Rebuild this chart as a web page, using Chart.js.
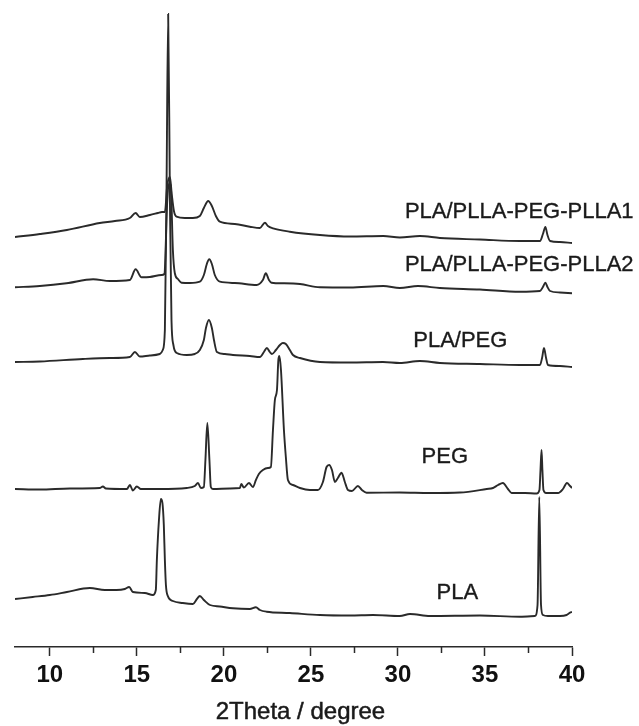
<!DOCTYPE html>
<html>
<head>
<meta charset="utf-8">
<script src="https://cdn.jsdelivr.net/npm/chart.js@4.4.1/dist/chart.umd.min.js"></script>
<style>
html,body{margin:0;padding:0;background:#fff;}
#c{display:block;}
</style>
</head>
<body>
<canvas id="c" width="639" height="726"></canvas>
<script>
// ---- Data (2Theta in degree, intensity in arbitrary units incl. stacking offset) ----
const xTickLabels = [10, 15, 20, 25, 30, 35, 40];
const seriesNames = ["PLA/PLLA-PEG-PLLA1", "PLA/PLLA-PEG-PLLA2", "PLA/PEG", "PEG", "PLA"];

const plaX = [8.0, 9.02, 10.0, 10.98, 12.30, 13.16, 13.83, 14.31, 14.56, 14.77, 15.46, 15.92, 16.09, 16.15, 16.27, 16.38, 16.47, 16.55, 16.61, 16.67, 16.78, 17.07, 17.64, 18.22, 18.45, 18.62, 18.85, 19.20, 19.77, 20.52, 21.49, 21.84, 22.07, 22.45, 23.79, 25.52, 27.24, 28.56, 30.11, 30.69, 31.84, 34.71, 37.01, 37.87, 38.02, 38.12, 38.22, 38.33, 38.62, 39.31, 39.69, 39.89, 40.0];
const plaY = [48, 50, 52, 55, 59, 57, 57, 58, 60, 55, 54, 52, 57, 87, 127, 148, 144, 122, 87, 62, 51, 46, 44, 43, 48, 51, 47, 42, 40.5, 38.7, 38, 39.7, 37, 35.3, 34, 32, 31.5, 32, 31, 33, 31, 31.5, 30.3, 31, 42, 150, 42, 32, 31, 31, 32, 34.3, 35];

const pegX = [8.0, 9.43, 11.15, 12.87, 13.05, 13.22, 14.43, 14.60, 14.77, 15.0, 15.23, 16.32, 17.87, 18.33, 18.51, 18.68, 18.85, 18.94, 19.05, 19.17, 19.25, 19.37, 20.34, 20.92, 21.0, 21.15, 21.44, 21.67, 21.84, 22.01, 22.24, 22.53, 22.70, 22.82, 22.93, 23.05, 23.13, 23.19, 23.28, 23.45, 23.56, 23.68, 23.97, 24.37, 24.94, 25.40, 25.69, 25.90, 26.05, 26.21, 26.38, 26.55, 26.76, 26.95, 27.13, 27.36, 27.70, 27.93, 28.20, 30.11, 31.84, 33.56, 35.10, 35.46, 35.75, 36.03, 36.32, 36.53, 37.30, 37.97, 38.13, 38.19, 38.25, 38.30, 38.36, 38.51, 39.20, 39.48, 39.71, 39.89, 40.0];
const pegY = [158, 157.5, 158.5, 159, 160.5, 158.5, 158, 162, 156.5, 160.5, 158, 158, 159, 161, 164, 159, 160, 187, 224, 187, 160, 158, 158.5, 159, 163, 159.5, 164, 160, 167, 173, 177, 179, 180, 217, 247, 257, 287, 291, 277, 217, 190, 167, 162, 159, 157, 157, 165, 180, 182, 177, 165, 169, 174.3, 165, 157, 156, 161, 157, 154.3, 154.5, 154, 154.5, 158, 159, 162, 164, 158, 154, 154, 153.5, 157, 177, 197, 177, 157, 154, 154, 158, 164, 161, 159];

const plaPegX = [8.0, 9.43, 11.90, 13.45, 14.60, 14.89, 15.17, 15.75, 16.32, 16.49, 16.61, 16.70, 16.80, 16.90, 16.99, 17.10, 17.30, 17.87, 18.33, 18.62, 18.85, 18.97, 19.14, 19.31, 19.43, 19.60, 20.06, 20.52, 21.49, 22.07, 22.30, 22.47, 22.64, 22.76, 22.99, 23.22, 23.39, 23.56, 23.79, 23.97, 24.37, 25.52, 27.24, 29.14, 30.11, 31.26, 32.41, 34.71, 37.01, 38.16, 38.28, 38.39, 38.51, 38.62, 39.31, 40.0];
const plaPegY = [285, 285.5, 288, 289, 290, 295, 290.5, 291.5, 293, 297, 317, 447, 633, 447, 327, 302, 294, 292, 293, 297, 307, 319, 327, 319, 307, 295, 293, 292, 291, 290, 295, 299, 295, 293, 297, 302, 304, 303, 297, 292, 289, 285, 284.5, 285, 284, 286, 284, 283, 282, 282, 289, 299, 289, 282, 281, 280];

const plla2X = [8.0, 9.43, 10.96, 12.49, 13.45, 14.60, 14.93, 15.27, 15.75, 16.42, 16.58, 16.75, 16.87, 16.95, 17.07, 17.18, 17.36, 17.57, 18.05, 18.62, 18.85, 19.02, 19.16, 19.31, 19.48, 19.77, 20.63, 21.88, 22.24, 22.41, 22.59, 22.74, 23.39, 24.37, 25.52, 27.24, 29.16, 30.11, 31.15, 32.41, 34.71, 37.01, 38.16, 38.33, 38.47, 38.59, 38.74, 39.31, 40.0];
const plla2Y = [359.7, 361, 363.7, 367.7, 366, 367, 377.7, 369.7, 370, 372, 373, 447, 464, 461, 397, 374, 368, 364.3, 364, 365.3, 372, 383, 387.7, 383, 372, 365.3, 364, 362, 367, 373.7, 367, 364.3, 363.7, 363, 359.7, 359.5, 361, 359, 361, 359, 357.5, 355.3, 356, 360, 364.3, 360, 356, 354.5, 353.7];

const plla1X = [8.0, 9.43, 10.98, 12.87, 13.74, 14.60, 14.93, 15.17, 15.75, 16.21, 16.44, 16.61, 16.75, 16.90, 17.01, 17.13, 17.28, 17.76, 18.22, 18.62, 18.85, 19.10, 19.31, 19.54, 19.77, 20.63, 21.49, 22.07, 22.36, 22.53, 22.83, 23.79, 25.52, 27.24, 29.16, 30.11, 31.26, 32.41, 34.71, 37.01, 38.16, 38.33, 38.47, 38.59, 38.74, 39.31, 40.0];
const plla1Y = [410, 413, 417, 424, 426, 429, 434, 430, 432, 434, 435, 435, 462, 470, 452, 436, 430.3, 429, 429, 431, 439, 446, 441, 431, 425.3, 423, 420.3, 419, 424.3, 421, 418.7, 415.3, 412, 410.5, 411, 409.5, 411, 409, 407.5, 406, 406, 413, 420, 412, 406, 405, 404];

function pts(xs, ys) { return xs.map((x, i) => ({ x: x, y: ys[i] })); }

const seriesData = [pts(plla1X, plla1Y), pts(plla2X, plla2Y), pts(plaPegX, plaPegY), pts(pegX, pegY), pts(plaX, plaY)];

// label anchors (2Theta, intensity) for series names
const labelAnchors = [[30.40, 429], [30.40, 376.3], [30.88, 300], [31.36, 183.7], [32.22, 47.7]];
const minorTicks = [12.5, 17.5, 22.5, 27.5, 32.5, 37.5];

const INK = '#2a2a2a';

const decorPlugin = {
  id: 'decor',
  afterDraw(chart) {
    const ctx = chart.ctx;
    const xs = chart.scales.x, ys = chart.scales.y;
    const bottom = chart.chartArea.bottom;
    ctx.save();
    // minor ticks
    ctx.strokeStyle = INK;
    ctx.lineWidth = 1.5;
    minorTicks.forEach(v => {
      const px = Math.round(xs.getPixelForValue(v)) + 0.5;
      ctx.beginPath();
      ctx.moveTo(px, bottom);
      ctx.lineTo(px, bottom + 6);
      ctx.stroke();
    });
    // series names
    ctx.fillStyle = '#1a1a1a';
    ctx.strokeStyle = '#1a1a1a';
    ctx.lineWidth = 0.35;
    ctx.font = '22px "Liberation Sans", Arial, sans-serif';
    ctx.textBaseline = 'alphabetic';
    ctx.textAlign = 'left';
    seriesNames.forEach((n, i) => {
      const a = labelAnchors[i];
      const px = xs.getPixelForValue(a[0]), py = ys.getPixelForValue(a[1]);
      ctx.fillText(n, px, py);
      ctx.strokeText(n, px, py);
    });
    // axis title
    ctx.font = '24px "Liberation Sans", Arial, sans-serif';
    ctx.textAlign = 'center';
    ctx.lineWidth = 0.5;
    const tx = xs.getPixelForValue(24.4), ty = bottom + 72;
    ctx.fillText('2Theta / degree', tx, ty);
    ctx.strokeText('2Theta / degree', tx, ty);
    ctx.restore();
  }
};

new Chart(document.getElementById('c'), {
  type: 'scatter',
  data: {
    datasets: seriesData.map((d, i) => ({
      label: seriesNames[i],
      data: d,
      showLine: true,
      borderColor: INK,
      borderWidth: 1.9,
      pointRadius: 0,
      cubicInterpolationMode: 'monotone',
      fill: false
    }))
  },
  options: {
    responsive: false,
    animation: false,
    devicePixelRatio: 1,
    layout: { padding: { left: 15, right: 67, top: 0, bottom: 0 } },
    plugins: { legend: { display: false }, tooltip: { enabled: false } },
    scales: {
      x: {
        type: 'linear',
        position: 'bottom',
        min: 8,
        max: 40,
        afterBuildTicks: (s) => { s.ticks = xTickLabels.map(v => ({ value: v })); },
        afterFit: (s) => { s.height = 79; },
        grid: { display: true, drawOnChartArea: false, drawTicks: true, tickLength: 9, tickColor: INK, tickWidth: 1.5 },
        border: { display: true, color: INK, width: 1.5 },
        ticks: {
          autoSkip: false,
          maxRotation: 0,
          color: '#111',
          padding: 5,
          font: { family: '"Liberation Sans", Arial, sans-serif', size: 24, weight: 'bold' },
          callback: (v) => String(v)
        }
      },
      y: {
        display: false,
        min: 0,
        max: 647
      }
    }
  },
  plugins: [decorPlugin]
});
</script>
</body>
</html>
